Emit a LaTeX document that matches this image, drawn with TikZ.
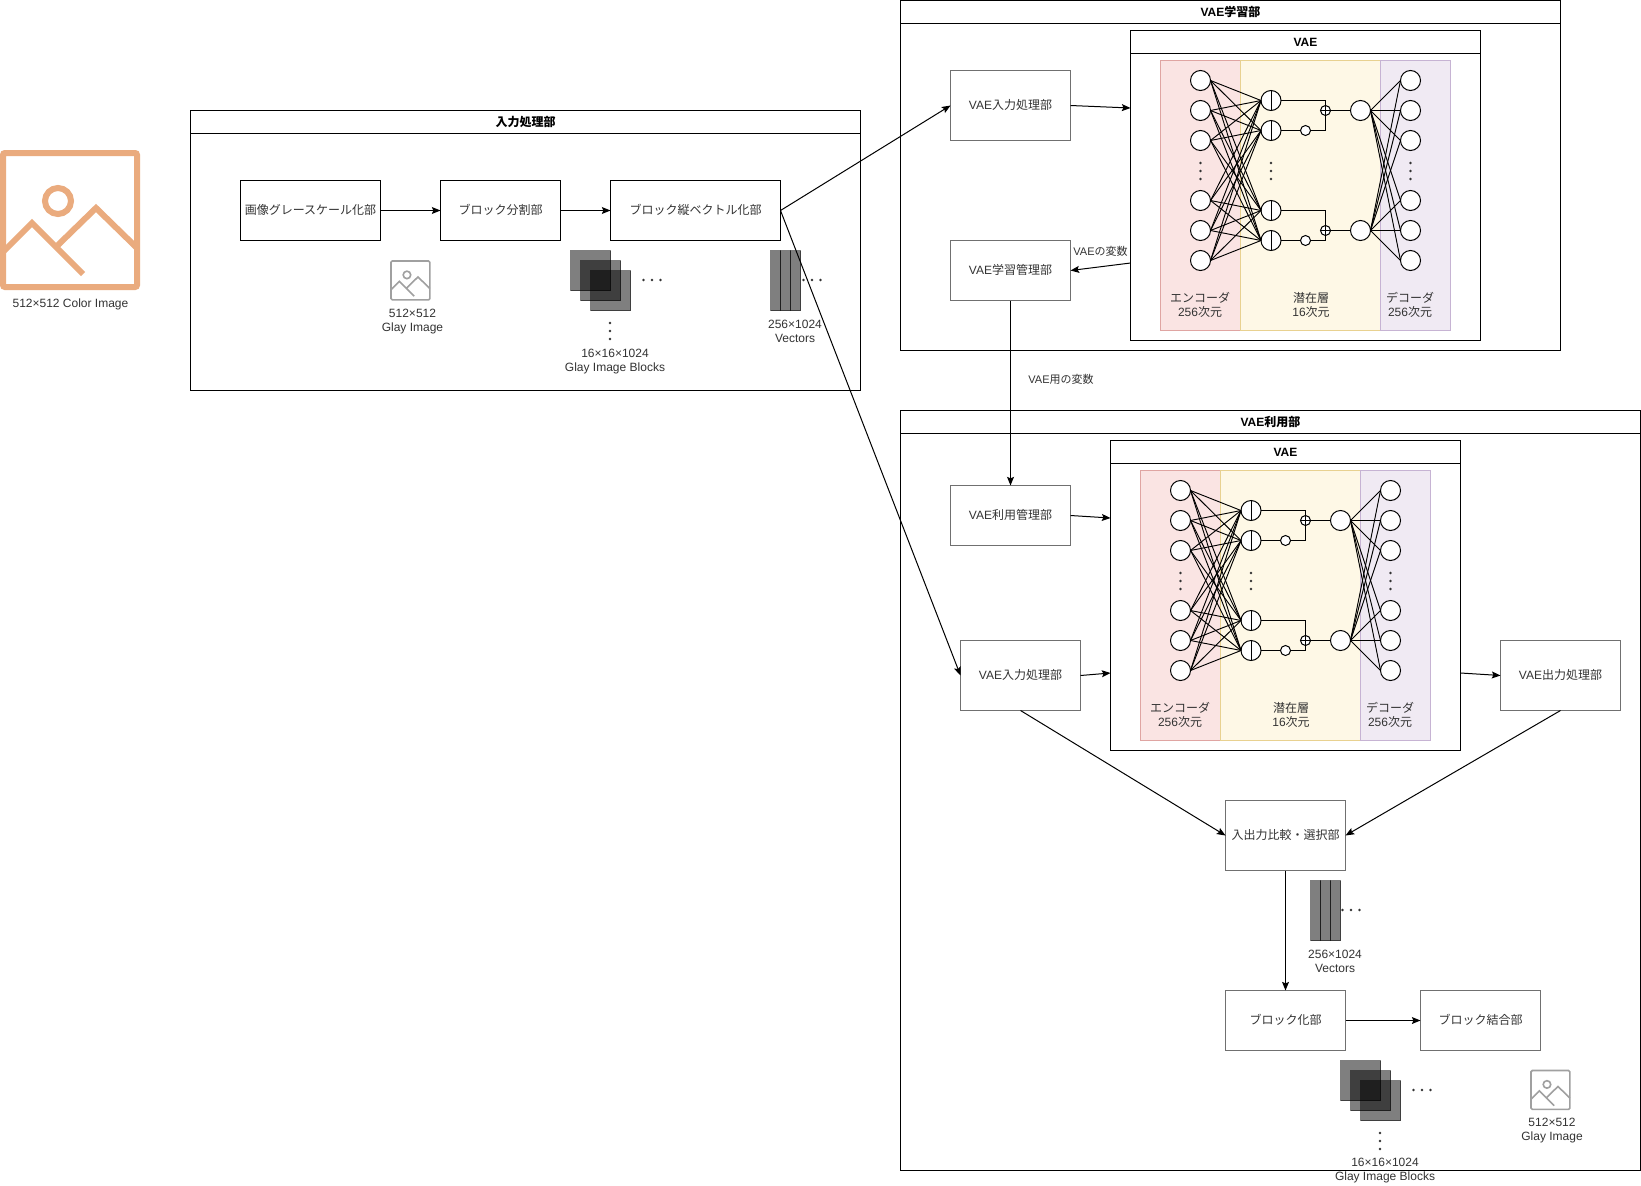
\documentclass[tikz,border=0pt]{standalone}
\usepackage{fontspec}
\setmainfont{Liberation Sans}
\newfontfamily\jp{Noto Sans CJK JP}
\usetikzlibrary{arrows.meta}
\newcommand\ja[1]{{\jp #1}}
\definecolor{iconorange}{HTML}{EAAB7E}
\definecolor{icongray}{HTML}{A0A0A0}
\definecolor{inkgray}{HTML}{333333}
\definecolor{boxgray}{HTML}{707070}
\definecolor{encfill}{HTML}{FAE4E3}
\definecolor{encline}{HTML}{DFA5A2}
\definecolor{latfill}{HTML}{FEF8E6}
\definecolor{latline}{HTML}{E8D190}
\definecolor{decfill}{HTML}{F0EAF3}
\definecolor{decline}{HTML}{C6B3D3}
\tikzset{
  wh/.style 2 args={minimum width=#1*0.75pt,minimum height=#2*0.75pt},
  base/.style={inner sep=0pt,outer sep=0pt,line width=0.75pt,text=inkgray,font=\fontsize{9pt}{10.5pt}\selectfont,align=center},
  panel/.style={base,draw=black,fill=white,anchor=north west},
  head/.style={panel,text=black,font=\fontsize{9pt}{11pt}\selectfont\bfseries},
  vaehead/.style={head,text height=7pt,text depth=0pt},
  procbox/.style={base,draw=black,fill=white,anchor=north west,text height=7.5pt,text depth=2pt},
  softbox/.style={procbox,draw=boxgray},
  label/.style={base},
  small/.style={base,font=\fontsize{8.25pt}{10pt}\selectfont,text=inkgray},
  arrow/.style={draw=black,line width=0.75pt,-{Stealth[length=6.5pt,width=5.2pt,inset=1.2pt]}},
  neuron/.style={circle,draw=black,fill=white,line width=0.75pt,minimum size=15pt,inner sep=0pt,outer sep=0pt},
  split/.style={neuron,path picture={\draw[line width=0.75pt] (path picture bounding box.north)--(path picture bounding box.south);}},
  tiny/.style={neuron,minimum size=7.5pt},
  plus/.style={tiny,path picture={\draw[line width=0.75pt] (path picture bounding box.north)--(path picture bounding box.south) (path picture bounding box.west)--(path picture bounding box.east);}},
  net/.style={draw=black,line width=0.7pt},
  wire/.style={draw=black,line width=0.75pt},
  sheet/.style={draw=black,fill=black,opacity=0.5,line width=0.75pt},
}
\newcommand\dotsv[2]{\foreach \d in {-8,0,8}{\fill[black!80] (#1,#2+\d) circle [radius=1.3];}}
\newcommand\dotsh[2]{\foreach \d in {-8.5,0,8.5}{\fill[black!80] (#1+\d,#2) circle [radius=1.3];}}
\newcommand\imgicon[3]{%
  \begin{scope}[shift={(#1,#2)},scale=0.29,line width=#3]
    \draw[icongray,rounded corners=1pt] (0,0) rectangle (134,134);
    \draw[icongray] (55,48) circle [radius=13];
    \draw[icongray] (0,99)--(29,70)--(80,121) (54,93)--(93,55)--(134,95);
  \end{scope}}
\newcommand\sheets[2]{%
  \foreach \k in {0,10,20}{\draw[sheet] (#1+\k,#2+\k) rectangle +(40,40);}}
\newcommand\stripes[2]{%
  \foreach \k in {0,10,20}{\draw[sheet] (#1+\k,#2) rectangle +(10,60);}}
\newcommand\vaegroup[2]{%
  \begin{scope}[shift={#2},name prefix=#1-]
    \node[panel,wh={350}{310}] (frame) at (1130.5,30.5) {};
    \node[vaehead,wh={350}{23}] (fhead) at (1130.5,30.5) {VAE};
    \node[base,draw=encline,fill=encfill,wh={80}{270},anchor=north west] (enc) at (1160.5,60.5) {};
    \node[base,draw=latline,fill=latfill,wh={140}{270},anchor=north west] (lat) at (1240.5,60.5) {};
    \node[base,draw=decline,fill=decfill,wh={70}{270},anchor=north west] (dec) at (1380.5,60.5) {};
    \node[label] (enctxt) at (1200,305) {\ja{エンコーダ}\\256\ja{次元}};
    \node[label] (lattxt) at (1311,305) {\ja{潜在層}\\16\ja{次元}};
    \node[label] (dectxt) at (1410,305) {\ja{デコーダ}\\256\ja{次元}};
    \foreach \n/\y in {1/80.5,2/110.5,3/140.5,4/200.5,5/230.5,6/260.5}{
      \node[neuron] (e\n) at (1200.5,\y) {};
      \node[neuron] (o\n) at (1410.5,\y) {};
    }
    \foreach \n/\y in {1/100.5,2/130.5,3/210.5,4/240.5}{\node[split] (z\n) at (1271,\y) {};}
    \foreach \n/\y in {1/130.5,2/240.5}{\node[tiny] (s\n) at (1305.5,\y) {};}
    \foreach \n/\y in {1/110.5,2/230.5}{
      \node[plus] (p\n) at (1325.5,\y) {};
      \node[neuron] (l\n) at (1360.5,\y) {};
    }
    \foreach \a in {1,...,6}{
      \foreach \b in {1,...,4}{\draw[net] (e\a.east)--(z\b.west);}
      \foreach \b in {1,2}{\draw[net] (l\b.east)--(o\a.west);}
    }
    \draw[wire] (z1.east) -| (p1.north);
    \draw[wire] (z2.east)--(s1.west);
    \draw[wire] (s1.east) -| (p1.south);
    \draw[wire] (z3.east) -| (p2.north);
    \draw[wire] (z4.east)--(s2.west);
    \draw[wire] (s2.east) -| (p2.south);
    \draw[wire] (p1.east)--(l1.west);
    \draw[wire] (p2.east)--(l2.west);
    \dotsv{1200.5}{171}
    \dotsv{1271}{171}
    \dotsv{1410.5}{171}
  \end{scope}}
\begin{document}
\begin{tikzpicture}[x=0.75pt,y=-0.75pt]
\useasboundingbox (0,0) rectangle (1641,1185);
\fill[white] (0,0) rectangle (1641,1185);

% colour image icon
\begin{scope}[line width=4.5pt]
  \draw[iconorange,rounded corners=1.5pt] (3,153) rectangle (137,287);
  \draw[iconorange] (58,201) circle [radius=13];
  \draw[iconorange] (3,252)--(32,223)--(83,274) (57,246)--(96,208)--(137,248);
\end{scope}
\node[label] (colorcap) at (70.5,304) {512×512 Color Image};

% input panel
\node[panel,wh={670}{280}] (inpanel) at (190.5,110.5) {};
\node[head,wh={670}{23}] (inhead) at (190.5,110.5) {\ja{入力処理部}};
\node[procbox,wh={140}{60}] (gray) at (240.5,180.5) {\ja{画像グレースケール化部}};
\node[procbox,wh={120}{60}] (blk) at (440.5,180.5) {\ja{ブロック分割部}};
\node[procbox,wh={170}{60}] (vec) at (610.5,180.5) {\ja{ブロック縦ベクトル化部}};
\imgicon{391}{261}{1.2pt}
\node[label] (c1) at (412.5,321.5) {512×512\\Glay Image};
\sheets{570.5}{250.5}
\dotsh{652}{280}
\dotsv{610}{331}
\node[label] (c2) at (615,361.5) {16×16×1024\\Glay Image Blocks};
\stripes{770.5}{250.5}
\dotsh{812}{280}
\node[label] (c3) at (795,331.5) {256×1024\\Vectors};

% VAE learning panel
\node[panel,wh={660}{350}] (learn) at (900.5,0.5) {};
\node[head,wh={660}{23}] (learnhead) at (900.5,0.5) {VAE\ja{学習部}};
\node[softbox,wh={120}{70}] (vin) at (950.5,70.5) {VAE\ja{入力処理部}};
\node[softbox,wh={120}{60}] (vtrain) at (950.5,240.5) {VAE\ja{学習管理部}};
\vaegroup{t}{(0,0)}

% VAE use panel
\node[panel,wh={740}{760}] (use) at (900.5,410.5) {};
\node[head,wh={740}{23}] (usehead) at (900.5,410.5) {VAE\ja{利用部}};
\vaegroup{b}{(-20,410)}
\node[softbox,wh={120}{60}] (vuse) at (950.5,485.5) {VAE\ja{利用管理部}};
\node[softbox,wh={120}{70}] (vin2) at (960.5,640.5) {VAE\ja{入力処理部}};
\node[softbox,wh={120}{70}] (vout) at (1500.5,640.5) {VAE\ja{出力処理部}};
\node[softbox,wh={120}{70}] (cmp) at (1225.5,800.5) {\ja{入出力比較・選択部}};
\node[softbox,wh={120}{60}] (mkblk) at (1225.5,990.5) {\ja{ブロック化部}};
\node[softbox,wh={120}{60}] (join) at (1420.5,990.5) {\ja{ブロック結合部}};
\stripes{1310.5}{880.5}
\dotsh{1351}{910}
\node[label] (c4) at (1335,961.5) {256×1024\\Vectors};
\sheets{1340.5}{1060.5}
\dotsh{1422}{1090}
\dotsv{1380}{1141}
\node[label] (c5) at (1385,1171) {16×16×1024\\Glay Image Blocks};
\imgicon{1531}{1070.5}{1.2pt}
\node[label] (c6) at (1552,1131) {512×512\\Glay Image};

% free ends on the VAE frames
\coordinate (tIn) at (t-frame.west |- 0,108);
\coordinate (tOut) at (t-frame.west |- 0,263);
\coordinate (bIn1) at (b-frame.west |- 0,518);
\coordinate (bIn2) at (b-frame.west |- 0,673);
\coordinate (bOut) at (b-frame.east |- 0,673);

% connectors
\draw[arrow] (gray.east)--(blk.west);
\draw[arrow] (blk.east)--(vec.west);
\draw[arrow] (vec.east)--(vin.west);
\draw[arrow] (vec.east)--(vin2.west);
\draw[arrow] (vin.east)--(tIn);
\draw[arrow] (tOut)--(vtrain.east);
\draw[arrow] (vtrain.south)--(vuse.north);
\draw[arrow] (vuse.east)--(bIn1);
\draw[arrow] (vin2.east)--(bIn2);
\draw[arrow] (bOut)--(vout.west);
\draw[arrow] (vin2.south)--(cmp.west);
\draw[arrow] (vout.south)--(cmp.east);
\draw[arrow] (cmp.south)--(mkblk.north);
\draw[arrow] (mkblk.east)--(join.west);

\node[small] (lb1) at (1100.5,251) {VAE\ja{の変数}};
\node[small] (lb2) at (1061,379) {VAE\ja{用の変数}};
\end{tikzpicture}
\end{document}
